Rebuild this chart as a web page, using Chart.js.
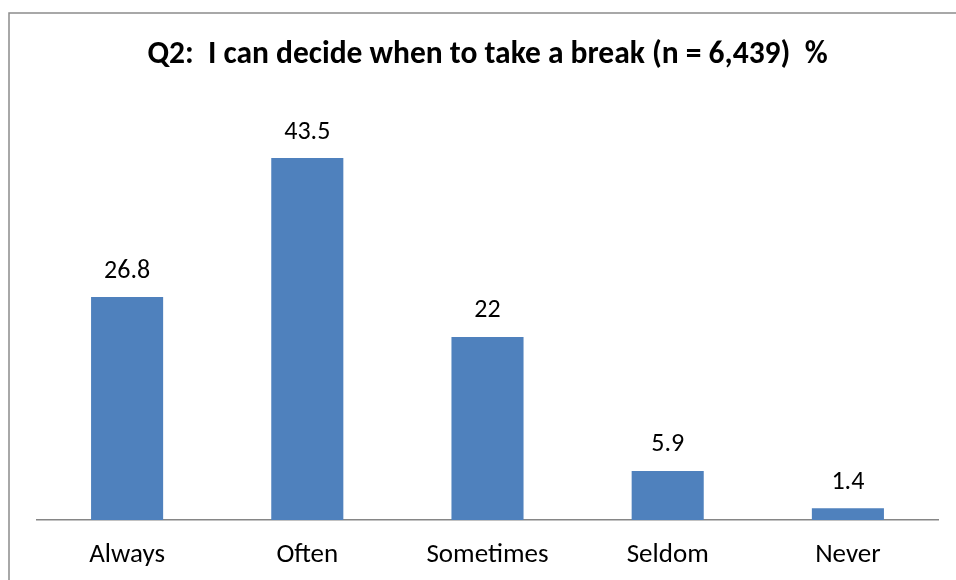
<!DOCTYPE html>
<html>
<head>
<meta charset="utf-8">
<script src="https://cdn.jsdelivr.net/npm/chart.js@4/dist/chart.umd.min.js"></script>
<style>
  html, body { margin: 0; padding: 0; background: #fff; }
  #wrap { position: relative; width: 956px; height: 580px; }
</style>
</head>
<body>
<div id="wrap"><canvas id="breakChart" width="956" height="580"></canvas></div>
<script>
"use strict";

/* ---------- data ---------- */
const categories = ["Always", "Often", "Sometimes", "Seldom", "Never"];
const percentages = [26.8, 43.5, 22, 5.9, 1.4];
const chartTitle = "Q2:  I can decide when to take a break (n = 6,439)  %";

const FONT = "Calibri, Carlito, Lato, 'Open Sans', sans-serif";
const BAR_COLOR = "#4F81BD";

// outer frame, only left and top edges fall inside the page
const framePlugin = {
  id: "frame",
  beforeDraw(chart) {
    const ctx = chart.ctx;
    ctx.save();
    ctx.strokeStyle = "#8c8c8c";
    ctx.lineWidth = 1.5;
    ctx.strokeRect(9, 13, 1000, 1000);
    ctx.restore();
  }
};

// heading centred above the plot area
const titlePlugin = {
  id: "heading",
  afterDraw(chart) {
    const ctx = chart.ctx;
    const area = chart.chartArea;
    ctx.save();
    ctx.font = "bold 31.5px " + FONT;
    ctx.fillStyle = "#000";
    ctx.textAlign = "center";
    ctx.textBaseline = "middle";
    ctx.fillText(chartTitle, (area.left + area.right) / 2, 55);
    ctx.restore();
  }
};

// value printed over each bar
const valueLabels = {
  id: "valueLabels",
  afterDatasetsDraw(chart) {
    const ctx = chart.ctx;
    const meta = chart.getDatasetMeta(0);
    ctx.save();
    ctx.font = "26px " + FONT;
    ctx.fillStyle = "#000";
    ctx.textAlign = "center";
    ctx.textBaseline = "middle";
    meta.data.forEach((bar, i) => {
      ctx.fillText(String(percentages[i]), bar.x, bar.y - 26);
    });
    ctx.restore();
  }
};

new Chart(document.getElementById("breakChart"), {
  type: "bar",
  data: {
    labels: categories,
    datasets: [{
      data: percentages,
      backgroundColor: BAR_COLOR,
      borderWidth: 0,
      categoryPercentage: 1,
      barPercentage: 0.4
    }]
  },
  options: {
    responsive: false,
    animation: false,
    layout: { padding: { top: 104, left: 37, right: 18, bottom: 0 } },
    plugins: {
      legend: { display: false },
      title: { display: false },
      tooltip: { enabled: false }
    },
    scales: {
      x: {
        grid: { display: false, drawTicks: false },
        border: { display: true, color: "#868686", width: 1.5 },
        ticks: {
          color: "#000",
          padding: 19,
          font: { family: FONT, size: 27 }
        },
        afterFit(scale) {
          scale.height = 60;
        }
      },
      y: {
        display: false,
        min: 0,
        max: 50
      }
    }
  },
  plugins: [framePlugin, titlePlugin, valueLabels]
});
</script>
</body>
</html>
